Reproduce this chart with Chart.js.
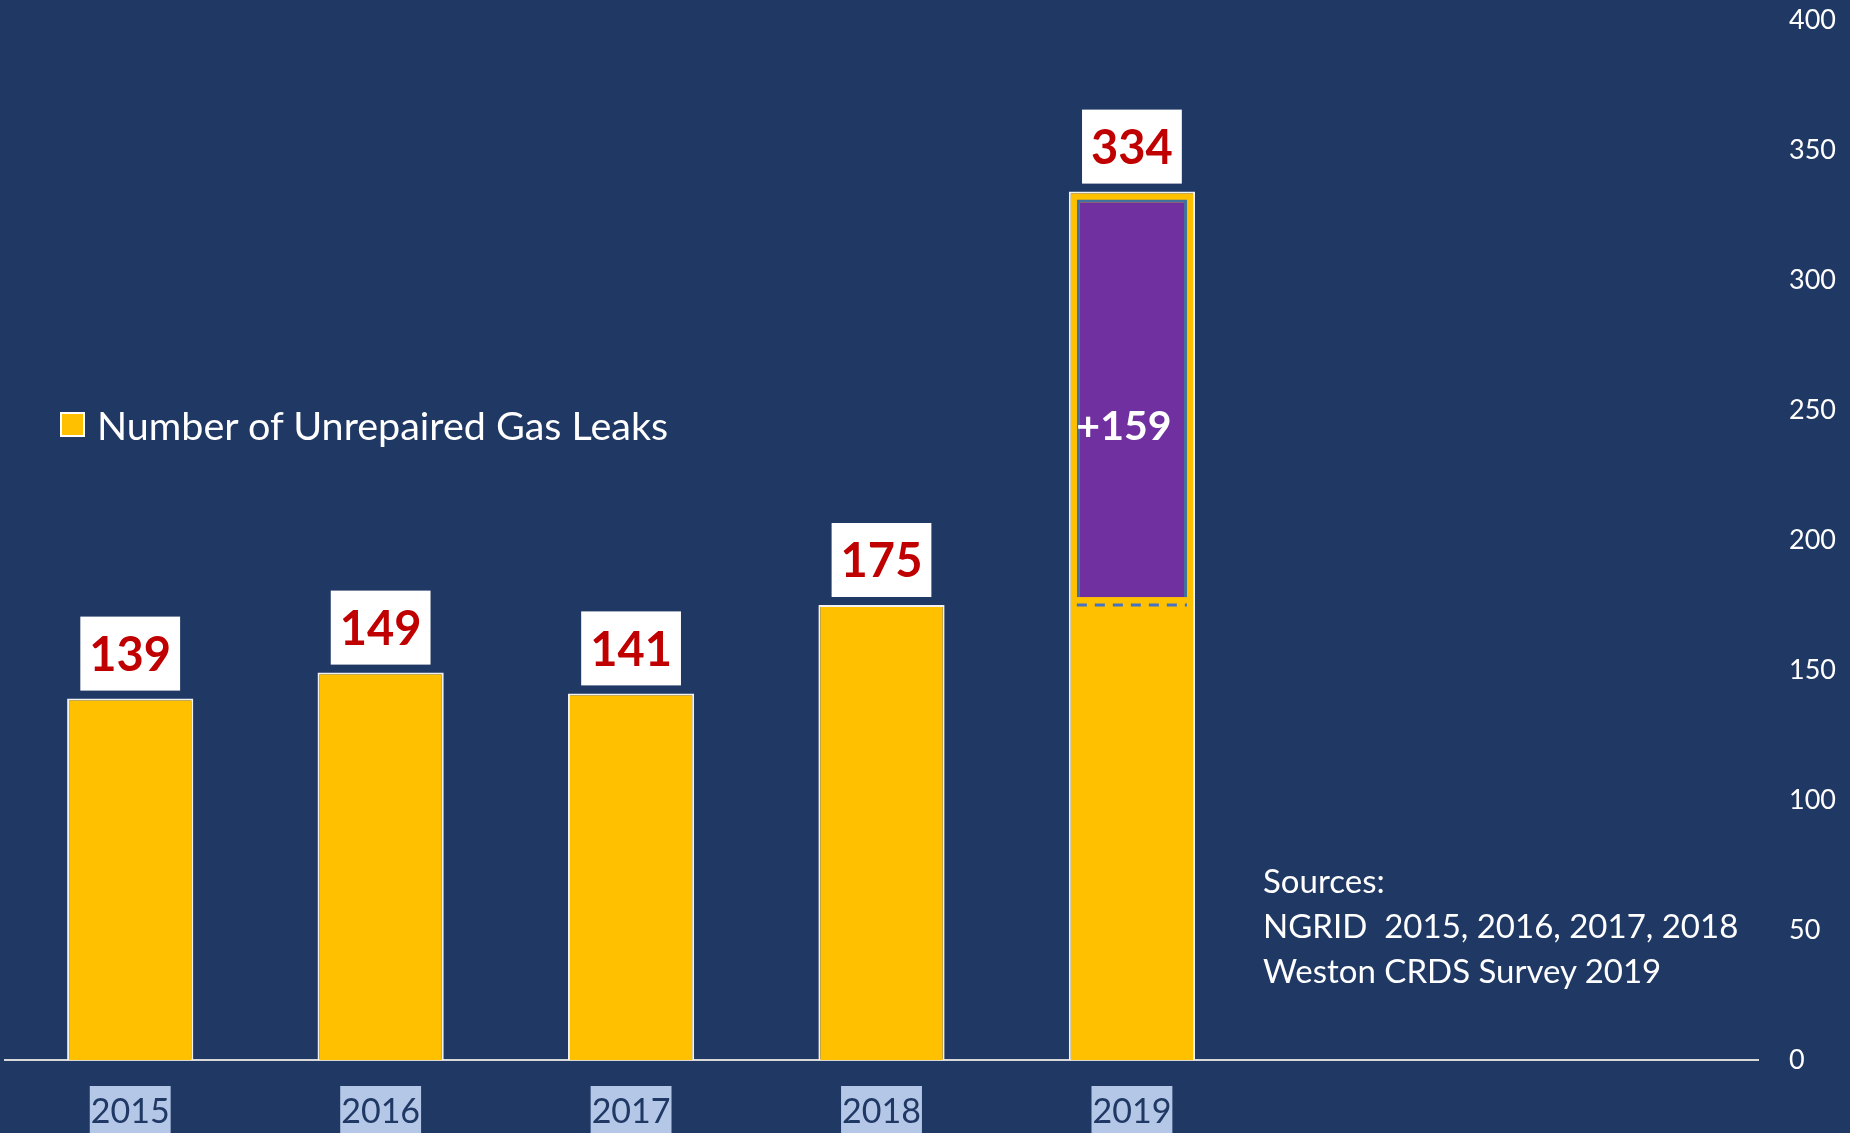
<!DOCTYPE html>
<html>
<head>
<meta charset="utf-8">
<script src="https://cdn.jsdelivr.net/npm/chart.js@4.4.1/dist/chart.umd.min.js"></script>
<style>
  body { margin: 0; background: #203864; }
  .wrap { position: relative; width: 1850px; height: 1133px; overflow: hidden; font-family: Lato, sans-serif; }
  #chart { position: absolute; left: 0; top: 0; }
  .legend { position: absolute; left: 60px; top: 401px; display: flex; align-items: center; color: #fff; font-size: 39.5px; line-height: 1.2; }
  .legend .box { width: 21px; height: 21px; border: 2px solid #fff; margin-right: 12px; }
  .sources { position: absolute; left: 1263px; top: 858px; color: #fff; font-size: 33px; line-height: 45px; white-space: pre; }
</style>
</head>
<body>
<div class="wrap">
  <canvas id="chart" width="1850" height="1133"></canvas>
  <div class="legend" id="legend"></div>
  <div class="sources" id="sources"></div>
</div>
<script>
// data
const years = ["2015", "2016", "2017", "2018", "2019", "", ""];
const leaks = [139, 149, 141, 175, 334, null, null];
// purple block inside the 2019 bar (new leaks found by the survey)
const increase = [null, null, null, null, [178, 331], null, null];
const yMin = 0;
const yMax = 400;
const yStep = 50;
const sources = ["Sources:", "NGRID  2015, 2016, 2017, 2018", "Weston CRDS Survey 2019"];

const YELLOW = "#FFC000";
const PURPLE = "#7030A0";
const NAVY = "#203864";

// white boxes with red numbers above the bars, dashed line + "+159"
const barLabels = {
  id: "barLabels",
  afterDatasetsDraw(chart) {
    const ctx = chart.ctx;
    const meta = chart.getDatasetMeta(0);
    ctx.save();
    ctx.font = "bold 47px Lato";
    ctx.textAlign = "center";
    ctx.textBaseline = "middle";
    meta.data.forEach((bar, i) => {
      const v = leaks[i];
      if (v == null) return;
      const txt = String(v);
      const w = ctx.measureText(txt).width + 18;
      const h = 74;
      const bottom = bar.y - 8;
      ctx.fillStyle = "#fff";
      ctx.fillRect(bar.x - w / 2, bottom - h, w, h);
      ctx.fillStyle = "#C00000";
      ctx.fillText(txt, bar.x, bottom - h / 2 + 2);
    });

    // previous year level drawn across the 2019 bar
    const pb = chart.getDatasetMeta(1).data[4];
    const y = chart.scales.y.getPixelForValue(leaks[3]);
    ctx.strokeStyle = "#4472C4";
    ctx.lineWidth = 3;
    ctx.setLineDash([10, 8]);
    ctx.beginPath();
    ctx.moveTo(pb.x - pb.width / 2, y);
    ctx.lineTo(pb.x + pb.width / 2, y);
    ctx.stroke();
    ctx.setLineDash([]);

    ctx.fillStyle = "#fff";
    ctx.font = "bold 41px Lato";
    ctx.fillText("+" + (leaks[4] - leaks[3]), pb.x - 8, (pb.y + pb.base) / 2 + 28);
    ctx.restore();
  }
};

const chart = new Chart(document.getElementById("chart"), {
  type: "bar",
  data: {
    labels: years,
    datasets: [
      {
        label: "Number of Unrepaired Gas Leaks",
        data: leaks,
        backgroundColor: YELLOW,
        borderColor: "#F2F2F2",
        borderWidth: 2,
        barPercentage: 0.504,
        categoryPercentage: 1,
        grouped: false,
        order: 1,
      },
      {
        label: "increase",
        data: increase,
        backgroundColor: PURPLE,
        borderColor: "#41719C",
        borderWidth: 3,
        barPercentage: 0.44,
        categoryPercentage: 1,
        grouped: false,
        order: 0,
      },
    ],
  },
  options: {
    responsive: false,
    animation: false,
    layout: { padding: { left: 5, top: 20, right: 0, bottom: 0 } },
    plugins: {
      legend: { display: false },
      tooltip: { enabled: false },
    },
    scales: {
      x: {
        grid: { display: false, drawTicks: false },
        border: { display: true, color: "#D9D9D9", width: 2 },
        ticks: {
          color: NAVY,
          font: { family: "Lato", size: 34 },
          padding: 32,
          autoSkip: false,
          maxRotation: 0,
          showLabelBackdrop: true,
          backdropColor: (c) => (c.tick && c.tick.label ? "#B4C7E7" : "rgba(0,0,0,0)"),
          backdropPadding: { top: 6, bottom: 20, left: 1, right: 1 },
        },
        afterFit(scale) {
          scale.height = 73;
        },
      },
      y: {
        position: "right",
        min: yMin,
        max: yMax,
        grid: { display: false, drawTicks: false },
        border: { display: false },
        ticks: {
          stepSize: yStep,
          color: "#fff",
          font: { family: "Lato", size: 27 },
          padding: 31,
        },
        afterFit(scale) {
          scale.width = 92;
          scale.paddingTop = 0;
          scale.paddingBottom = 0;
        },
      },
    },
  },
  plugins: [barLabels],
});

// html legend from the first dataset
const ds = chart.data.datasets[0];
document.getElementById("legend").innerHTML =
  `<span class="box" style="background:${ds.backgroundColor}"></span><span>${ds.label}</span>`;

document.getElementById("sources").textContent = sources.join("\n");
</script>
</body>
</html>
